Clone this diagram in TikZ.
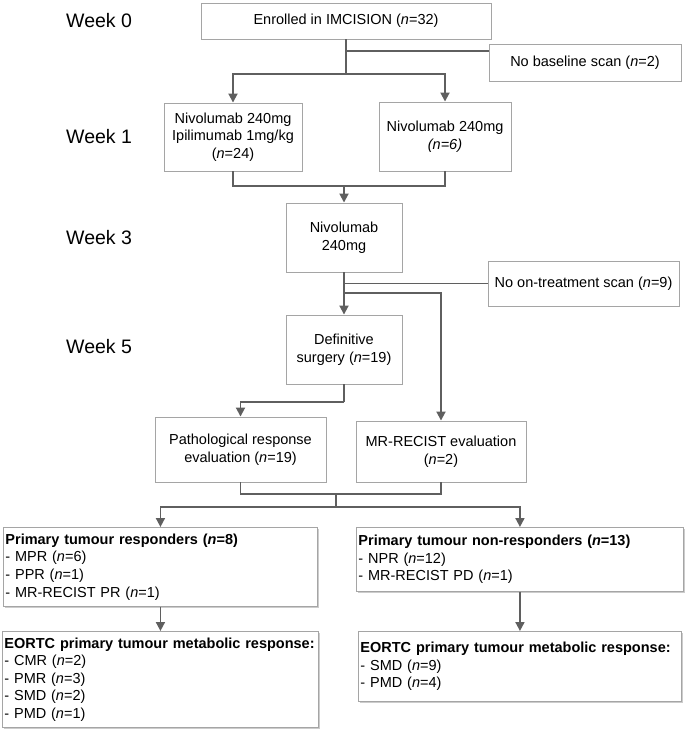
\documentclass[tikz,border=0pt]{standalone}
\usepackage{fontspec}
\setmainfont{Liberation Sans}
\usepackage{tikz}
\usetikzlibrary{arrows.meta, shadows}
\definecolor{linegray}{RGB}{95,95,95}
\definecolor{boxgray}{RGB}{165,165,165}

\begin{document}
\begin{tikzpicture}[x=1pt, y=-1pt,
  box/.style={draw=boxgray, line width=0.9pt, fill=white, inner sep=0pt, align=center,
    drop shadow={shadow xshift=1.4pt, shadow yshift=-1.4pt, fill=black!20, opacity=1},
    font=\fontsize{14.5}{17.6}\selectfont},
  listbox/.style={box, align=left, anchor=north west, inner xsep=2pt},
  week/.style={anchor=west, inner sep=0pt, font=\fontsize{19.5}{22}\selectfont},
  conn/.style={draw=linegray, line width=1.8pt},
  arr/.style={conn, -{Triangle[width=9pt,length=9pt]}}]
\useasboundingbox (0,0) rectangle (685,730);

\node[week] (wk0) at (66,21){Week 0};
\node[week] (wk1) at (66,137){Week 1};
\node[week] (wk3) at (66,238){Week 3};
\node[week] (wk5) at (66,347){Week 5};

\node[box, minimum width=290pt, minimum height=36pt] (enrolled) at (346,21){Enrolled in IMCISION (\textit{n}=32)};
\node[box, minimum width=192pt, minimum height=37pt] (nobaseline) at (585,62.5){No baseline scan (\textit{n}=2)};

\node[box, minimum width=138pt, minimum height=68pt] (nivoipi) at (233,137){Nivolumab 240mg\\Ipilimumab 1mg/kg\\(\textit{n}=24)};
\node[box, minimum width=132pt, minimum height=69pt] (nivo) at (445,136.5){Nivolumab 240mg\\\textit{(n=6)}};

\node[box, minimum width=116pt, minimum height=69pt] (nivomono) at (344,237.5){Nivolumab\\240mg};
\node[box, minimum width=191pt, minimum height=45pt] (noscan) at (583.5,283.5){No on-treatment scan (\textit{n}=9)};

\node[box, minimum width=116pt, minimum height=69pt] (surgery) at (344,349.5){Definitive\\surgery (\textit{n}=19)};

\node[box, minimum width=171pt, minimum height=65pt] (patheval) at (240.5,449.5){Pathological response\\evaluation (\textit{n}=19)};
\node[box, minimum width=170pt, minimum height=61pt] (mreval) at (441,451.5){MR-RECIST evaluation\\(\textit{n}=2)};

\node[listbox, text width=310pt, minimum height=79pt] (resp) at (3,527){\textbf{Primary tumour responders (\textit{n}=8)}\\- MPR (\textit{n}=6)\\- PPR (\textit{n}=1)\\- MR-RECIST PR (\textit{n}=1)};
\node[listbox, text width=323pt, minimum height=64pt] (nonresp) at (356,527){\textbf{Primary tumour non-responders (\textit{n}=13)}\\- NPR (\textit{n}=12)\\- MR-RECIST PD (\textit{n}=1)};

\node[listbox, text width=312pt, minimum height=96pt] (metresp) at (2,631){\textbf{EORTC primary tumour metabolic response:}\\- CMR (\textit{n}=2)\\- PMR (\textit{n}=3)\\- SMD (\textit{n}=2)\\- PMD (\textit{n}=1)};
\node[listbox, text width=319pt, minimum height=70pt] (metnonresp) at (358,631){\textbf{EORTC primary tumour metabolic response:}\\- SMD (\textit{n}=9)\\- PMD (\textit{n}=4)};

\coordinate (exit0) at (346,51);
\coordinate (split0) at (346,74);
\draw[conn] (enrolled.south)--(split0);
\draw[conn] (exit0)--(exit0 -| nobaseline.west);
\draw[arr] (split0) -| (nivoipi.north);
\draw[arr] (split0) -| (nivo.north);

\coordinate (merge1) at (344,186);
\draw[conn] (nivoipi.south) |- (merge1);
\draw[conn] (nivo.south) |- (merge1);
\draw[arr] (merge1)--(nivomono.north);

\coordinate (exit3) at (344,283.5);
\coordinate (branch3) at (344,293);
\draw[arr] (nivomono.south)--(surgery.north);
\draw[conn] (exit3)--(noscan.west);
\draw[arr] (branch3) -| (mreval.north);

\coordinate (bend5) at (344,402);
\draw[conn] (surgery.south)--(bend5);
\draw[arr] (bend5) -| (patheval.north);

\coordinate (merge2) at (336,494);
\coordinate (split2) at (336,507);
\draw[conn] (patheval.south) |- (merge2);
\draw[conn] (mreval.south) |- (merge2);
\draw[conn] (merge2)--(split2);
\draw[arr] (split2) -| (resp.north);
\draw[arr] (split2) -| (nonresp.north);

\draw[arr] (resp.south)--(metresp.north);
\draw[arr] (nonresp.south)--(metnonresp.north);
\end{tikzpicture}
\end{document}
